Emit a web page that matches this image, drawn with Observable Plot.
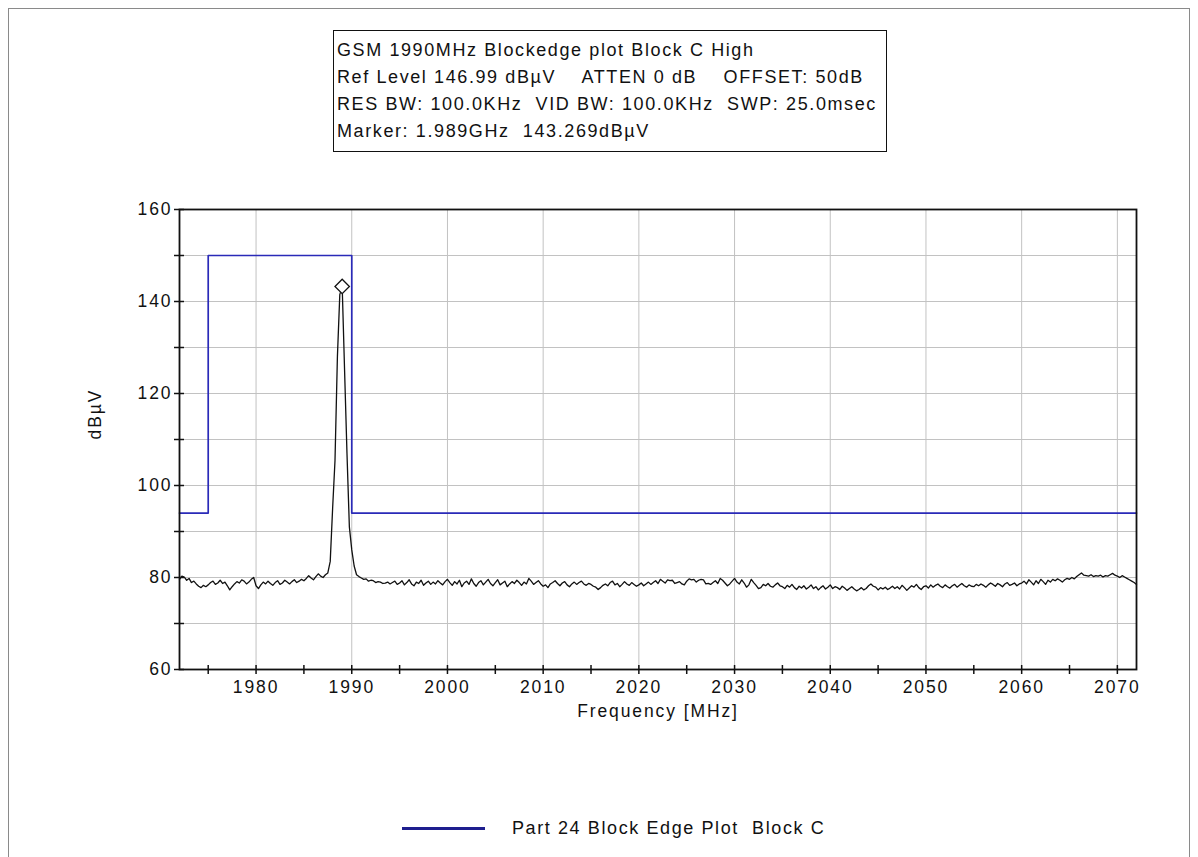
<!DOCTYPE html>
<html>
<head>
<meta charset="utf-8">
<script src="https://cdn.jsdelivr.net/npm/d3@7"></script>
<script src="https://cdn.jsdelivr.net/npm/@observablehq/plot@0.6"></script>
<style>
  html, body { margin: 0; padding: 0; background: #fff; overflow: hidden; }
  #page { position: relative; width: 1198px; height: 857px; font-family: "Liberation Sans", Arial, sans-serif; color: #111; }
  #outer { position: absolute; left: 8px; top: 8px; width: 1182px; height: 900px; border: 1px solid #8a8a8a; box-sizing: border-box; }
  #chart { position: absolute; left: 0; top: 0; }
  #info { position: absolute; left: 333px; top: 30px; width: 554px; height: 122px; border: 1px solid #111; box-sizing: border-box;
          font-size: 18px; letter-spacing: 1.6px; line-height: 27px; padding: 6px 0 0 3px; white-space: pre; background: #fff; }
  #legend { position: absolute; left: 402px; top: 816px; height: 24px; display: flex; align-items: center; font-size: 18px; letter-spacing: 1.6px; white-space: pre; }
  #legend .swatch { width: 83px; height: 3px; background: #1e1e8e; margin-right: 27px; }
</style>
</head>
<body>
<div id="page">
  <div id="outer"></div>
  <div id="chart"></div>
  <div id="info"></div>
  <div id="legend"><div class="swatch"></div><span id="legendText"></span></div>
</div>
<script>
// Analyzer settings shown in the header box
const infoLines = [
  "GSM 1990MHz Blockedge plot Block C High",
  "Ref Level 146.99 dBµV    ATTEN 0 dB    OFFSET: 50dB",
  "RES BW: 100.0KHz  VID BW: 100.0KHz  SWP: 25.0msec",
  "Marker: 1.989GHz  143.269dBµV"
];
const legendLabel = "Part 24 Block Edge Plot  Block C";
const xLabel = "Frequency [MHz]";
const yLabel = "dBµV";

// Axis ranges and ticks
const freqDomain = [1972, 2072];
const levelDomain = [60, 160];
const xTickLabels = [1980, 1990, 2000, 2010, 2020, 2030, 2040, 2050, 2060, 2070];
const xMinorTicks = [1975, 1980, 1985, 1990, 1995, 2000, 2005, 2010, 2015, 2020, 2025, 2030, 2035, 2040, 2045, 2050, 2055, 2060, 2065, 2070];
const yTickLabels = [60, 80, 100, 120, 140, 160];
const yMinorTicks = [60, 70, 80, 90, 100, 110, 120, 130, 140, 150, 160];
const xGrid = [1980, 1990, 2000, 2010, 2020, 2030, 2040, 2050, 2060, 2070];
const yGrid = [70, 80, 90, 100, 110, 120, 130, 140, 150];

// Block edge limit (dBµV): -13 dBm outside the block, 43 dBm inside Block C
const limitFreq  = [1972, 1975, 1975, 1990, 1990, 2072];
const limitLevel = [94,   94,   150,  150,  94,   94];

// Measured sweep, 0.25 MHz bins; each row = [start frequency, levels...]
const sweepStep = 0.25;
const sweepRows = [
  [1972,   [79.6, 80.3, 80.1, 79.4, 79.8, 78.9, 79.2, 78.6, 78.1, 77.8, 78.3, 78.0]],
  [1975,   [78.4, 78.9, 79.2, 78.5, 78.8, 79.4, 78.7, 79.0, 78.2, 77.3, 78.0, 78.6, 79.1, 78.8, 79.5, 79.2, 78.6, 79.0, 79.6, 80.0]],
  [1980,   [78.2, 77.6, 78.4, 79.0, 78.6, 79.2, 78.7, 78.3, 78.9, 79.3, 78.5, 78.8, 79.4, 79.0, 78.6, 79.1, 79.5, 78.9, 79.2, 79.6]],
  [1985,   [79.3, 79.8, 80.4, 79.9, 79.5, 80.2, 80.8, 80.3, 80.0, 80.6]],
  [1987.5, [81.0, 83.5, 95.0, 105.5, 128.0, 141.5, 143.269, 125.0, 107.0, 91.0, 86.0, 82.5, 80.6, 80.2]],
  [1991,   [79.9, 79.6, 79.7, 79.2, 79.4, 79.3, 78.9, 79.1, 79.0, 78.7, 78.8, 79.0, 78.6, 78.9, 79.2, 78.5]],
  [1995,   [78.8, 79.3, 78.4, 78.9, 79.5, 78.6, 78.2, 79.0, 78.7, 79.4, 78.3, 78.8, 79.2, 78.5, 79.0, 78.6, 79.3, 78.8, 78.4, 79.1]],
  [2000,   [79.6, 78.9, 78.3, 79.1, 78.6, 79.4, 78.0, 78.8, 79.2, 78.5, 79.7, 78.7, 78.1, 78.9, 79.3, 78.4, 79.0, 79.6, 78.7, 78.2]],
  [2005,   [78.9, 79.5, 78.4, 78.8, 79.2, 78.0, 78.6, 79.1, 78.7, 79.4, 78.9, 78.3, 79.0, 78.6, 79.8, 79.2, 78.5, 78.9, 79.3, 78.6]],
  [2010,   [78.1, 78.4, 77.8, 78.6, 78.9, 79.3, 78.7, 78.2, 78.8, 79.1, 78.4, 78.0, 78.6, 79.0, 78.5, 78.9, 79.2, 78.6, 78.3, 78.7]],
  [2015,   [78.5, 78.1, 77.9, 77.4, 77.8, 78.3, 78.6, 78.2, 78.9, 79.2, 78.4, 78.7, 78.0, 78.5, 79.1, 78.6, 78.3, 78.9, 78.5, 78.1]],
  [2020,   [78.4, 78.8, 78.2, 78.6, 79.0, 78.5, 78.9, 79.3, 78.7, 79.6, 79.2, 78.8, 79.5, 79.3, 79.4, 78.7, 78.9, 79.1, 78.6, 78.4]],
  [2025,   [79.2, 79.7, 79.5, 79.6, 79.0, 79.4, 79.6, 79.5, 78.6, 78.7, 78.5, 78.9, 79.3, 78.7, 79.8, 79.4, 78.8, 78.2, 78.6, 79.2]],
  [2030,   [79.8, 79.0, 78.6, 79.5, 78.8, 77.9, 78.4, 79.6, 78.9, 78.3, 77.6, 77.8, 78.5, 78.2, 78.7, 78.1, 77.9, 78.4, 78.8, 78.2]],
  [2035,   [78.0, 77.6, 78.3, 77.9, 78.5, 77.8, 77.4, 78.1, 77.7, 78.2, 77.5, 77.9, 78.4, 77.6, 78.0, 77.3, 77.8, 78.2, 77.5, 77.9]],
  [2040,   [78.4, 77.6, 78.0, 77.8, 77.4, 78.1, 77.7, 77.2, 77.6, 78.0, 77.5, 77.1, 77.4, 77.8, 77.3, 77.6, 78.2, 78.6, 78.1, 77.9]],
  [2045,   [77.3, 77.8, 77.5, 77.9, 77.4, 77.7, 78.1, 77.6, 78.0, 77.5, 78.3, 77.8, 77.2, 77.7, 78.2, 77.9, 78.5, 77.8, 77.4, 78.0]],
  [2050,   [78.2, 77.7, 78.4, 77.9, 78.3, 78.6, 78.1, 77.8, 78.4, 78.0, 77.7, 78.2, 78.5, 77.9, 78.3, 78.7, 78.2, 77.9, 78.4, 78.1]],
  [2055,   [78.0, 78.5, 78.2, 78.6, 78.3, 77.9, 78.4, 78.8, 78.5, 78.1, 78.7, 78.4, 78.0, 78.6, 78.9, 78.3, 78.5, 78.8, 78.2, 78.6]],
  [2060,   [78.8, 79.2, 78.6, 79.5, 79.0, 78.4, 79.3, 78.7, 79.6, 79.1, 78.5, 79.4, 79.0, 79.6, 79.3, 79.7, 79.4, 79.0, 79.5, 79.8]],
  [2065,   [79.6, 80.0, 79.7, 80.2, 80.6, 81.0, 80.5, 80.4, 80.3, 80.6, 80.2, 80.4, 80.3, 80.5, 80.1, 80.4, 80.3, 80.6, 80.9, 80.5]],
  [2070,   [80.3, 80.0, 80.4, 80.1, 79.8, 79.5, 79.2, 78.9, 78.5]]
];

// Peak marker
const markerFreq = 1989;
const markerLevel = 143.269;

const sweep = sweepRows.flatMap(([f0, levels]) =>
  levels.map((level, i) => ({freq: f0 + i * sweepStep, level})));
const limit = limitFreq.map((freq, i) => ({freq, level: limitLevel[i]}));

const chart = Plot.plot({
  width: 1198,
  height: 857,
  marginLeft: 179,
  marginRight: 62,
  marginTop: 209,
  marginBottom: 188,
  style: {fontFamily: "'Liberation Sans', Arial, sans-serif", fontSize: "17.5px", letterSpacing: "1.9px", color: "#111", background: "transparent"},
  x: {domain: freqDomain, axis: null, label: null},
  y: {domain: levelDomain, axis: null, label: null},
  marks: [
    Plot.gridY(yGrid, {stroke: "#c2c2c2", strokeOpacity: 1}),
    Plot.gridX(xGrid, {stroke: "#c2c2c2", strokeOpacity: 1}),
    Plot.line(limit, {x: "freq", y: "level", stroke: "#2a2ab8", strokeWidth: 1.7}),
    Plot.line(sweep, {x: "freq", y: "level", stroke: "#111", strokeWidth: 1.3}),
    Plot.dot([{freq: markerFreq, level: markerLevel}], {x: "freq", y: "level", symbol: "diamond2", r: 6.5, stroke: "#111", strokeWidth: 1.3, fill: "#fff"}),
    Plot.frame({stroke: "#111", strokeWidth: 1.8}),
    // tick marks straddling the left and bottom axes
    Plot.axisY(yMinorTicks, {tickSize: 10, dx: 5, tickFormat: () => "", label: null, stroke: "#111", strokeWidth: 1.5}),
    Plot.axisX(xMinorTicks, {tickSize: 9, dy: -4, tickFormat: () => "", label: null, stroke: "#111", strokeWidth: 1.5}),
    // tick labels
    Plot.axisY(yTickLabels, {tickSize: 0, tickPadding: 7, tickFormat: d => String(d), label: null, fill: "#111"}),
    Plot.axisX(xTickLabels, {tickSize: 0, tickPadding: 11, tickFormat: d => String(d), label: null, fill: "#111"}),
    // axis titles
    Plot.text([xLabel], {frameAnchor: "bottom", dy: 47, text: d => d, fill: "#111"}),
    Plot.text([yLabel], {frameAnchor: "left", dx: -84, rotate: -90, text: d => d, fill: "#111"})
  ]
});

document.getElementById("chart").appendChild(chart);
document.getElementById("info").textContent = infoLines.join("\n");
document.getElementById("legendText").textContent = legendLabel;
</script>
</body>
</html>
